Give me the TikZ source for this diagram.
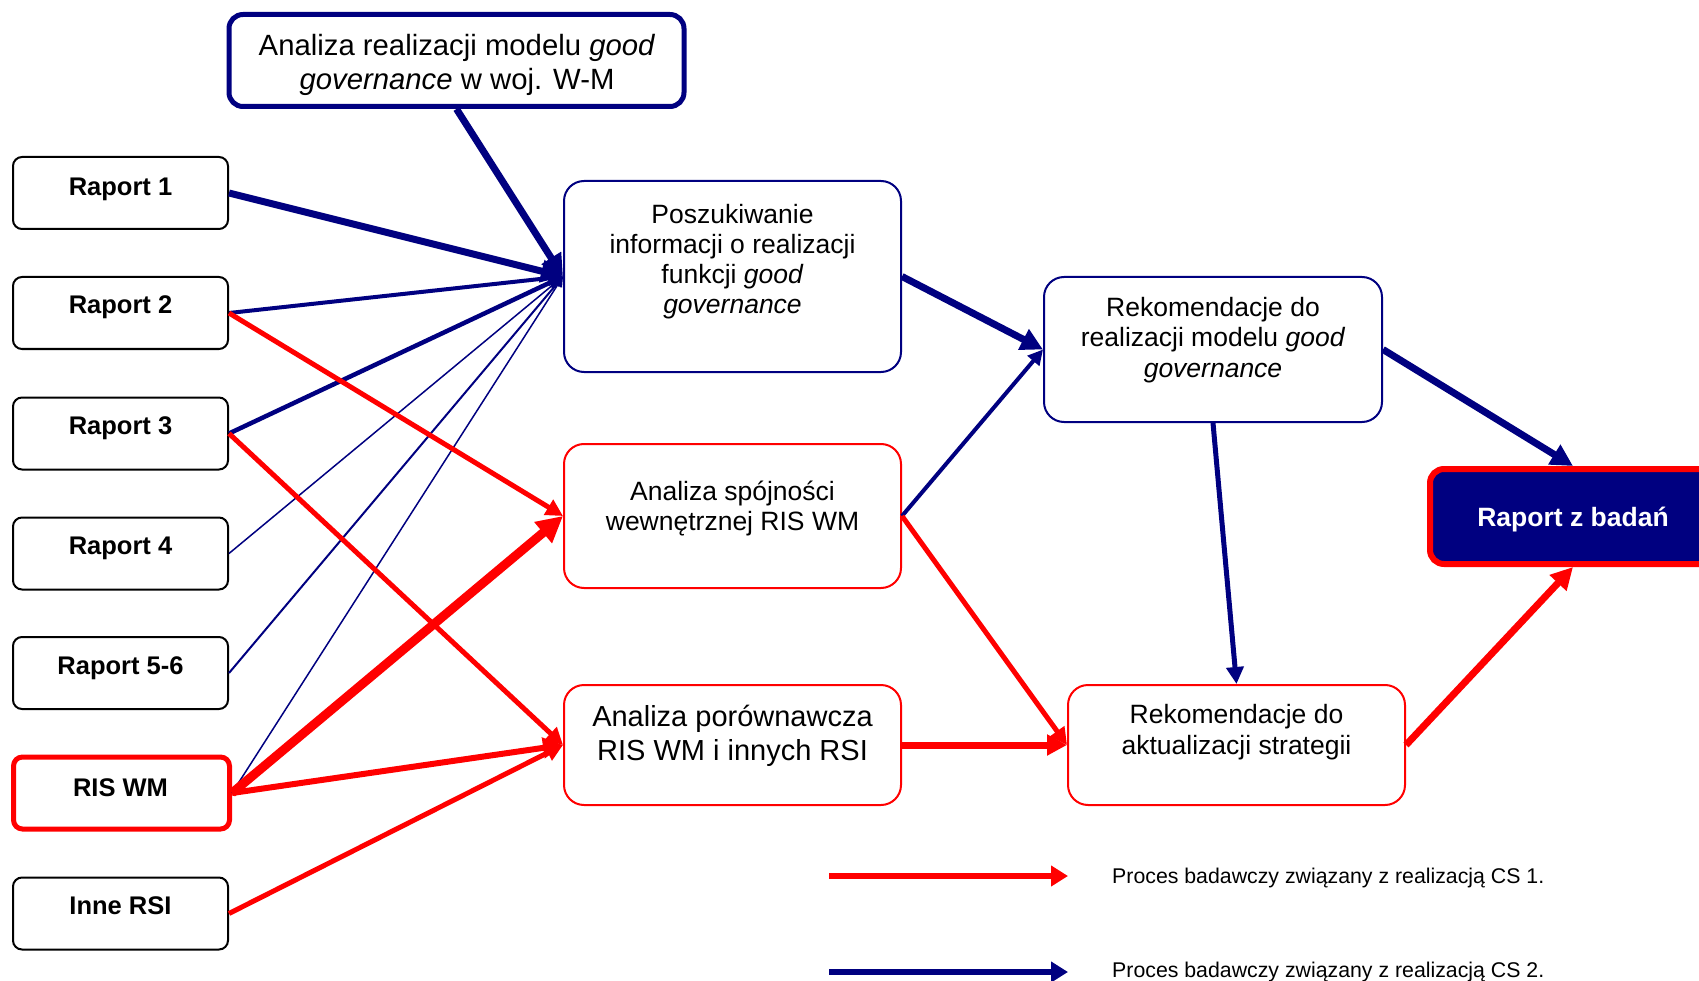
\documentclass[tikz,border=0pt]{standalone}
\usepackage{fontspec}
\setmainfont{Liberation Sans}
\usetikzlibrary{arrows.meta}
\definecolor{navyc}{RGB}{0,0,128}
\definecolor{redc}{RGB}{255,0,0}
\begin{document}
\begin{tikzpicture}[x=1pt,y=-1pt,
  lbox/.style={draw=black, line width=2pt, rounded corners=9pt, inner sep=0pt, minimum width=215pt, minimum height=72pt, fill=white},
  mbox/.style={draw=#1, line width=2pt, rounded corners=20pt, inner sep=0pt, minimum width=337pt, fill=white},
  ltxt/.style={anchor=base, inner sep=0pt, font=\fontsize{25.5}{30}\selectfont\bfseries},
  mtxt/.style={anchor=base, inner sep=0pt, font=\fontsize{26.5}{30}\selectfont},
  btxt/.style={anchor=base, inner sep=0pt, font=\fontsize{29.3}{33}\selectfont},
  gtxt/.style={anchor=base west, inner sep=0pt, font=\fontsize{21.3}{25}\selectfont},
  hd/.style={-{Triangle[length=#1pt,width=#1pt]}},
  nv/.style={draw=navyc, line width=#1pt},
  rd/.style={draw=redc, line width=#1pt}]
\clip (0,0) rectangle (1699,981);
\fill[white] (0,0) rectangle (1699,981);

% top box
\node[draw=navyc, line width=5pt, rounded corners=14pt, inner sep=0pt, minimum width=455pt, minimum height=92pt] (top) at (456.5,60.5) {};
\node[btxt] (topa) at (457,56) {Analiza realizacji modelu \textit{good}};
\node[btxt] (topb) at (457,90) {\textit{governance} w woj. W-M};

% left boxes
\node[lbox] (r1) at (120.5,193) {};
\node[ltxt] (r1t) at (120.5,196) {Raport 1};
\node[lbox] (r2) at (120.5,313) {};
\node[ltxt] (r2t) at (120.5,314) {Raport 2};
\node[lbox] (r3) at (120.5,433.5) {};
\node[ltxt] (r3t) at (120.5,434) {Raport 3};
\node[lbox] (r4) at (120.5,553.5) {};
\node[ltxt] (r4t) at (120.5,554.5) {Raport 4};
\node[lbox] (r5) at (120.5,673) {};
\node[ltxt] (r5t) at (120.5,674) {Raport 5-6};
\node[lbox, draw=redc, line width=5pt, minimum width=216pt, minimum height=72pt] (ris) at (121.5,793) {};
\node[ltxt] (rist) at (120.5,796) {RIS WM};
\node[lbox] (inne) at (120.5,913.5) {};
\node[ltxt] (innet) at (120.5,914) {Inne RSI};

% middle boxes
\node[mbox=navyc, minimum height=191pt] (p) at (732.5,276.5) {};
\node[mtxt] (p1) at (732.5,223.3) {Poszukiwanie};
\node[mtxt] (p2) at (732.5,253.5) {informacji o realizacji};
\node[mtxt] (p3) at (732.5,284) {funkcji \textit{good}};
\node[mtxt] (p4) at (732.5,313.5) {\textit{governance}};

\node[mbox=redc, minimum height=144pt] (s) at (732.5,516) {};
\node[mtxt] (s1) at (732.5,500) {Analiza spójności};
\node[mtxt] (s2) at (732.5,530) {wewnętrznej RIS WM};

\node[mbox=redc, minimum height=120pt] (c) at (732.5,745) {};
\node[btxt, font=\fontsize{29}{33}\selectfont] (c1) at (732.5,726.7) {Analiza porównawcza};
\node[btxt, font=\fontsize{29}{33}\selectfont] (c2) at (732.5,760) {RIS WM i innych RSI};

% right boxes
\node[mbox=navyc, minimum width=338pt, minimum height=145pt] (rr) at (1213,349.5) {};
\node[mtxt] (rr1) at (1213,316.7) {Rekomendacje do};
\node[mtxt] (rr2) at (1213,346.7) {realizacji modelu \textit{good}};
\node[mtxt] (rr3) at (1213,377.3) {\textit{governance}};

\node[mbox=redc, minimum height=120pt] (ra) at (1236.5,745) {};
\node[mtxt] (ra1) at (1236.5,723.5) {Rekomendacje do};
\node[mtxt] (ra2) at (1236.5,754) {aktualizacji strategii};

\node[draw=redc, fill=navyc, line width=6pt, rounded corners=14pt, inner sep=0pt, minimum width=286pt, minimum height=95pt] (rz) at (1573,516.5) {};
\node[ltxt, text=white, font=\fontsize{26.5}{30}\selectfont\bfseries] (rzt) at (1573,526.5) {Raport z badań};

% navy connectors into p
\draw[nv=1.5, hd=10] (ris.east) -- (p.west);
\draw[nv=2, hd=10] (r5.east) -- (p.west);
\draw[nv=1.5, hd=10] (r4.east) -- (p.west);
\draw[nv=4.5, hd=15] (r3.east) -- (p.west);
\draw[nv=4, hd=15] (r2.east) -- (p.west);
\draw[nv=7, hd=22] (r1.east) -- (p.west);
\draw[nv=7, hd=22] (top.south) -- (p.west);

% red connectors
\draw[rd=5, hd=17] (r2.east) -- (s.west);
\draw[rd=5, hd=17] (r3.east) -- (c.west);
\draw[rd=9, hd=26] (ris.east) -- (s.west);
\draw[rd=6, hd=20] (ris.east) -- (c.west);
\draw[rd=5, hd=17] (inne.east) -- (c.west);

% middle to right
\draw[nv=7, hd=22] (p.east) -- (rr.west);
\draw[nv=4, hd=15] (s.east) -- (rr.west);
\draw[rd=5, hd=17] (s.east) -- (ra.west);
\draw[rd=7, hd=20] (c.east) -- (ra.west);
\draw[nv=5, hd=17] (rr.south) -- (ra.north);
\draw[nv=7, hd=22] (rr.east) -- (rz.north);
\draw[rd=7, hd=22] (ra.east) -- (rz.south);

% legend
\coordinate (l1a) at (829,876);
\coordinate (l1b) at (1068,876);
\coordinate (l2a) at (829,972);
\coordinate (l2b) at (1068,972);
\draw[rd=6, -{Triangle[length=17pt,width=20pt]}] (l1a) -- (l1b);
\draw[nv=6, -{Triangle[length=17pt,width=20pt]}] (l2a) -- (l2b);
\node[gtxt] (g1) at (1112,883) {Proces badawczy związany z realizacją CS 1.};
\node[gtxt] (g2) at (1112,977) {Proces badawczy związany z realizacją CS 2.};
\end{tikzpicture}
\end{document}
